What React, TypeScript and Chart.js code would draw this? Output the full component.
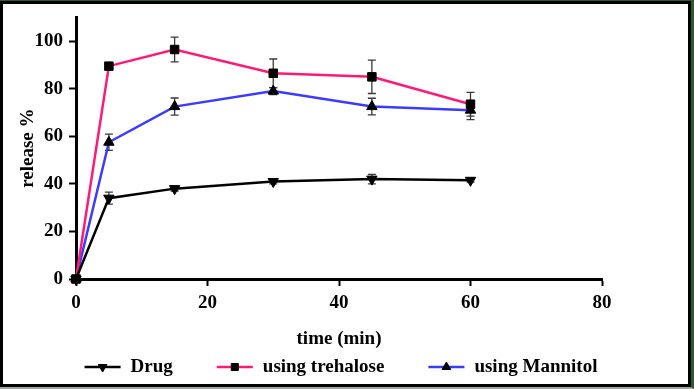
import React, { useEffect, useRef } from "react";
import { Chart, registerables } from "chart.js";
import { drawPoint } from "chart.js/helpers";

Chart.register(...registerables);

// ---- data ----
const times = [0, 5, 15, 30, 45, 60];
const seriesLabels = ["Drug", "using trehalose", "using Mannitol"];
const drugValues = [0, 34, 38, 41, 42, 41.5];
const drugErrors = [0, 2.5, 1, 1, 2, 0.8];
const trehaloseValues = [0, 89.5, 96.5, 86.5, 85, 73.5];
const trehaloseErrors = [0, 1, 5.2, 6, 7, 5];
const mannitolValues = [0, 57.5, 72.5, 79, 72.5, 71];
const mannitolErrors = [0, 3.4, 3.6, 1.5, 3.5, 4];
const xTickValues = [0, 20, 40, 60, 80];
const yTickValues = [0, 20, 40, 60, 80, 100];

const errorSets = [drugErrors, trehaloseErrors, mannitolErrors];
const FONT = { family: '"Liberation Serif", "Times New Roman", serif', size: 19, weight: "bold" as const };

const errorBarPlugin = {
  id: "errorBars",
  beforeDatasetsDraw(chart: any) {
    const ctx = chart.ctx;
    const xs = chart.scales.x;
    const ys = chart.scales.y;
    chart.data.datasets.forEach((ds: any, i: number) => {
      const errs = errorSets[i];
      ctx.save();
      ctx.strokeStyle = "#3a3a3a";
      ctx.lineWidth = 1.3;
      ds.data.forEach((p: any, j: number) => {
        const e = errs[j];
        if (!e) return;
        const x = xs.getPixelForValue(p.x);
        const yt = ys.getPixelForValue(p.y + e);
        const yb = ys.getPixelForValue(p.y - e);
        ctx.beginPath();
        ctx.moveTo(x, yt);
        ctx.lineTo(x, yb);
        ctx.moveTo(x - 4, yt);
        ctx.lineTo(x + 4, yt);
        ctx.moveTo(x - 4, yb);
        ctx.lineTo(x + 4, yb);
        ctx.stroke();
      });
      ctx.restore();
    });
  },
};

const legendPlugin = {
  id: "lineLegend",
  afterDraw(chart: any) {
    const ctx = chart.ctx;
    const ds = chart.data.datasets;
    ctx.save();
    ctx.font = `bold ${FONT.size}px ${FONT.family}`;
    const lineW = 36;
    const gapText = 10;
    const gapItem = 44;
    const widths = ds.map((d: any) => ctx.measureText(d.label).width);
    const total =
      widths.reduce((a: number, w: number) => a + lineW + gapText + w, 0) + gapItem * (ds.length - 1);
    const area = chart.chartArea;
    let x = (area.left + area.right) / 2 + 2 - total / 2;
    const y = area.bottom + 88;
    ds.forEach((d: any, i: number) => {
      ctx.strokeStyle = d.borderColor;
      ctx.lineWidth = 2.5;
      ctx.beginPath();
      ctx.moveTo(x, y);
      ctx.lineTo(x + lineW, y);
      ctx.stroke();
      ctx.fillStyle = "#000";
      ctx.strokeStyle = "#000";
      ctx.lineWidth = 1;
      drawPoint(
        ctx,
        { pointStyle: d.pointStyle, rotation: d.pointRotation || 0, radius: 5, borderWidth: 1 },
        x + lineW / 2,
        y
      );
      ctx.fillStyle = "#000";
      ctx.textBaseline = "middle";
      ctx.textAlign = "left";
      ctx.fillText(d.label, x + lineW + gapText, y);
      x += lineW + gapText + widths[i] + gapItem;
    });
    ctx.restore();
  },
};

function toPoints(vals: number[]) {
  return times.map((t, i) => ({ x: t, y: vals[i] }));
}

export default function App() {
  const ref = useRef<HTMLCanvasElement | null>(null);

  useEffect(() => {
    if (!ref.current) return;
    const common = {
      borderWidth: 2.5,
      pointBackgroundColor: "#000",
      pointBorderColor: "#000",
      pointBorderWidth: 1,
      pointRadius: 6,
      clip: false as const,
      tension: 0,
    };
    const chart = new Chart(ref.current, {
      type: "line",
      data: {
        datasets: [
          {
            ...common,
            label: seriesLabels[0],
            data: toPoints(drugValues),
            borderColor: "#000000",
            pointStyle: "triangle",
            pointRotation: 180,
          },
          {
            ...common,
            label: seriesLabels[1],
            data: toPoints(trehaloseValues),
            borderColor: "#ff1a78",
            pointStyle: "rect",
          },
          {
            ...common,
            label: seriesLabels[2],
            data: toPoints(mannitolValues),
            borderColor: "#3b3bff",
            pointStyle: "triangle",
          },
        ] as any,
      },
      options: {
        responsive: false,
        animation: false,
        layout: { padding: { left: 5, right: 92, top: 17, bottom: 0 } },
        plugins: { legend: { display: false }, tooltip: { enabled: false } },
        scales: {
          x: {
            type: "linear",
            min: 0,
            max: 80,
            afterBuildTicks: (s: any) => {
              s.ticks = xTickValues.map((v) => ({ value: v }));
            },
            afterFit: (s: any) => {
              s.height = 110;
            },
            ticks: { font: FONT, color: "#000", padding: 6, maxRotation: 0 },
            grid: {
              display: true,
              drawOnChartArea: false,
              drawTicks: true,
              tickLength: 7,
              tickWidth: 2,
              tickColor: "#000",
            },
            border: { display: true, color: "#000", width: 3 },
            title: {
              display: true,
              text: "time (min)",
              font: FONT,
              color: "#000",
              padding: { top: 0, bottom: 39 },
            },
          },
          y: {
            type: "linear",
            min: 0,
            max: 110,
            afterBuildTicks: (s: any) => {
              s.ticks = yTickValues.map((v) => ({ value: v }));
            },
            afterFit: (s: any) => {
              s.width = 71;
            },
            ticks: { font: FONT, color: "#000", padding: 6 },
            grid: {
              display: true,
              drawOnChartArea: false,
              drawTicks: true,
              tickLength: 7,
              tickWidth: 2,
              tickColor: "#000",
            },
            border: { display: true, color: "#000", width: 3 },
            title: {
              display: true,
              text: "release %",
              font: FONT,
              color: "#000",
              padding: { top: 12, bottom: 0 },
            },
          },
        },
      } as any,
      plugins: [errorBarPlugin, legendPlugin],
    });
    return () => chart.destroy();
  }, []);

  return (
    <div style={{ position: "absolute", left: 0, top: 0, width: 694, height: 389, background: "#fff" }}>
      <canvas ref={ref} width={694} height={389} style={{ display: "block" }} />
      <div
        style={{
          position: "absolute",
          left: 0,
          top: 0,
          width: 694,
          height: 389,
          boxSizing: "border-box",
          borderTop: "1px solid #2d5b2d",
          borderRight: "3px solid #2d5b2d",
          borderBottom: "2px solid #9aa79a",
          pointerEvents: "none",
        }}
      >
        <div
          style={{
            position: "absolute",
            left: 0,
            top: 0,
            right: 0,
            bottom: 0,
            border: "3px solid #000",
          }}
        />
      </div>
    </div>
  );
}
